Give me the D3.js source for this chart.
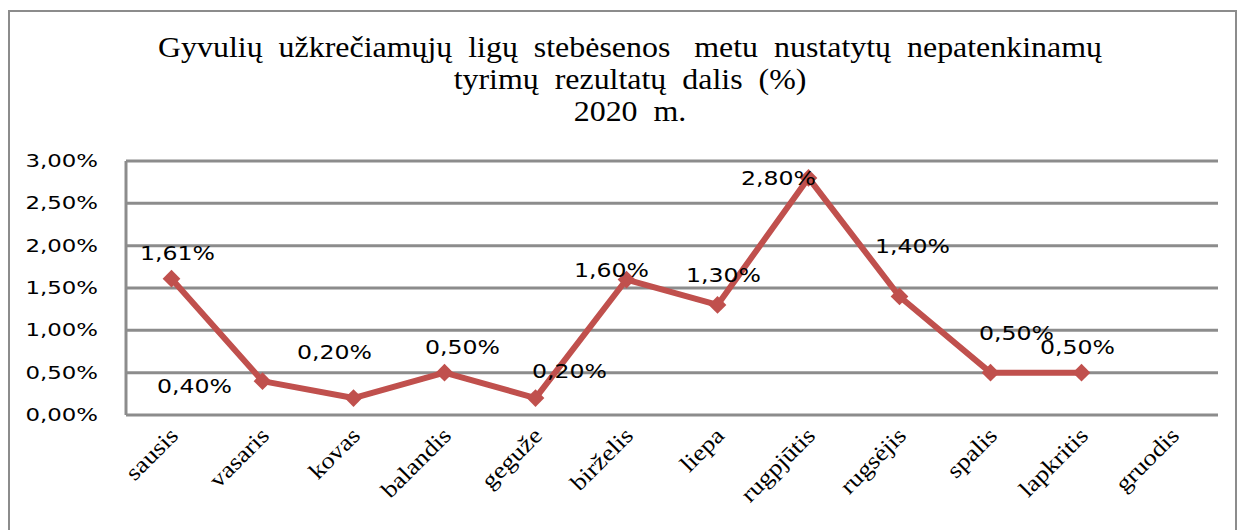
<!DOCTYPE html>
<html>
<head>
<meta charset="utf-8">
<script src="https://cdn.jsdelivr.net/npm/d3@7"></script>
<style>
  body { margin: 0; background: #fff; }
  svg { display: block; }
</style>
</head>
<body>
<svg id="chart" width="1239" height="530"></svg>
<script>
const months = ["sausis", "vasaris", "kovas", "balandis", "geguže", "birželis",
  "liepa", "rugpjūtis", "rugsėjis", "spalis", "lapkritis", "gruodis"];
const shares = [1.61, 0.40, 0.20, 0.50, 0.20, 1.60, 1.30, 2.80, 1.40, 0.50, 0.50, null];
const yTicks = [0, 0.5, 1, 1.5, 2, 2.5, 3];
const titleLines = [
  "Gyvulių  užkrečiamųjų  ligų  stebėsenos   metu  nustatytų  nepatenkinamų",
  "tyrimų  rezultatų  dalis  (%)",
  "2020  m."
];
// where each value label sits relative to its point
const labelNudge = [[6, -26], [-68, 5], [-19, -46], [18, -26], [34, -27], [-15, -10],
  [6, -30], [-30, 0], [13, -50], [26, -40], [-4, -26], [0, 0]];

const svg = d3.select("#chart");
const margin = { top: 161, right: 21, bottom: 115, left: 126 };
const width = 1239 - margin.left - margin.right;
const height = 530 - margin.top - margin.bottom;
const fmt = (v) => v.toFixed(2).replace(".", ",") + "%";

// outer frame
svg.append("rect")
  .attr("x", 9).attr("y", 11)
  .attr("width", 1227).attr("height", 540)
  .attr("fill", "none").attr("stroke", "#8c8c8c").attr("stroke-width", 2);

// title
svg.append("g")
  .selectAll("text")
  .data(titleLines)
  .join("text")
  .attr("text-anchor", "middle")
  .attr("font-family", "'Liberation Serif', 'Times New Roman', serif")
  .attr("font-size", 28)
  .attr("fill", "#000")
  .style("white-space", "pre")
  .attr("transform", (d, i) => `translate(630, ${57 + i * 32}) scale(1.14, 1.04)`)
  .text((d) => d);

const x = d3.scaleBand().domain(months).range([0, width]);
const y = d3.scaleLinear().domain([0, 3]).range([height, 0]);

const plot = svg.append("g").attr("transform", `translate(${margin.left},${margin.top})`);

// gridlines
plot.append("g")
  .selectAll("line")
  .data(yTicks)
  .join("line")
  .attr("x1", 0).attr("x2", width)
  .attr("y1", (d) => y(d)).attr("y2", (d) => y(d))
  .attr("stroke", "#8c8c8c").attr("stroke-width", 3);

plot.append("line")
  .attr("x1", 0).attr("x2", 0).attr("y1", 0).attr("y2", height)
  .attr("stroke", "#8c8c8c").attr("stroke-width", 3);

// y labels
plot.append("g")
  .selectAll("text")
  .data(yTicks)
  .join("text")
  .attr("text-anchor", "end")
  .attr("font-family", "'DejaVu Sans', Verdana, sans-serif")
  .attr("font-size", 18)
  .attr("fill", "#000")
  .attr("transform", (d) => `translate(-28, ${y(d) + 6}) scale(1.27, 1)`)
  .text((d) => fmt(d));

// x labels
plot.append("g")
  .selectAll("text")
  .data(months)
  .join("text")
  .attr("text-anchor", "end")
  .attr("font-family", "'Liberation Serif', 'Times New Roman', serif")
  .attr("font-size", 23)
  .attr("fill", "#000")
  .attr("transform", (d) => `translate(${x(d) + x.bandwidth() / 2 + 8}, ${height + 22}) rotate(-45) scale(1.15, 1)`)
  .text((d) => d);

const points = months.map((m, i) => ({ m, v: shares[i], i })).filter((d) => d.v !== null);
const cx = (d) => x(d.m) + x.bandwidth() / 2;

plot.append("path")
  .datum(points)
  .attr("fill", "none")
  .attr("stroke", "#c0504d")
  .attr("stroke-width", 6)
  .attr("stroke-linejoin", "round")
  .attr("d", d3.line().x(cx).y((d) => y(d.v)));

plot.append("g")
  .selectAll("path")
  .data(points)
  .join("path")
  .attr("d", d3.symbol(d3.symbolDiamond2, 200))
  .attr("fill", "#c0504d")
  .attr("transform", (d) => `translate(${cx(d)}, ${y(d.v)})`);

plot.append("g")
  .selectAll("text")
  .data(points)
  .join("text")
  .attr("text-anchor", "middle")
  .attr("font-family", "'DejaVu Sans', Verdana, sans-serif")
  .attr("font-size", 20)
  .attr("fill", "#000")
  .attr("transform", (d) => `translate(${cx(d) + labelNudge[d.i][0]}, ${y(d.v) + labelNudge[d.i][1] + 7}) scale(1.18, 1)`)
  .text((d) => fmt(d.v));
</script>
</body>
</html>
